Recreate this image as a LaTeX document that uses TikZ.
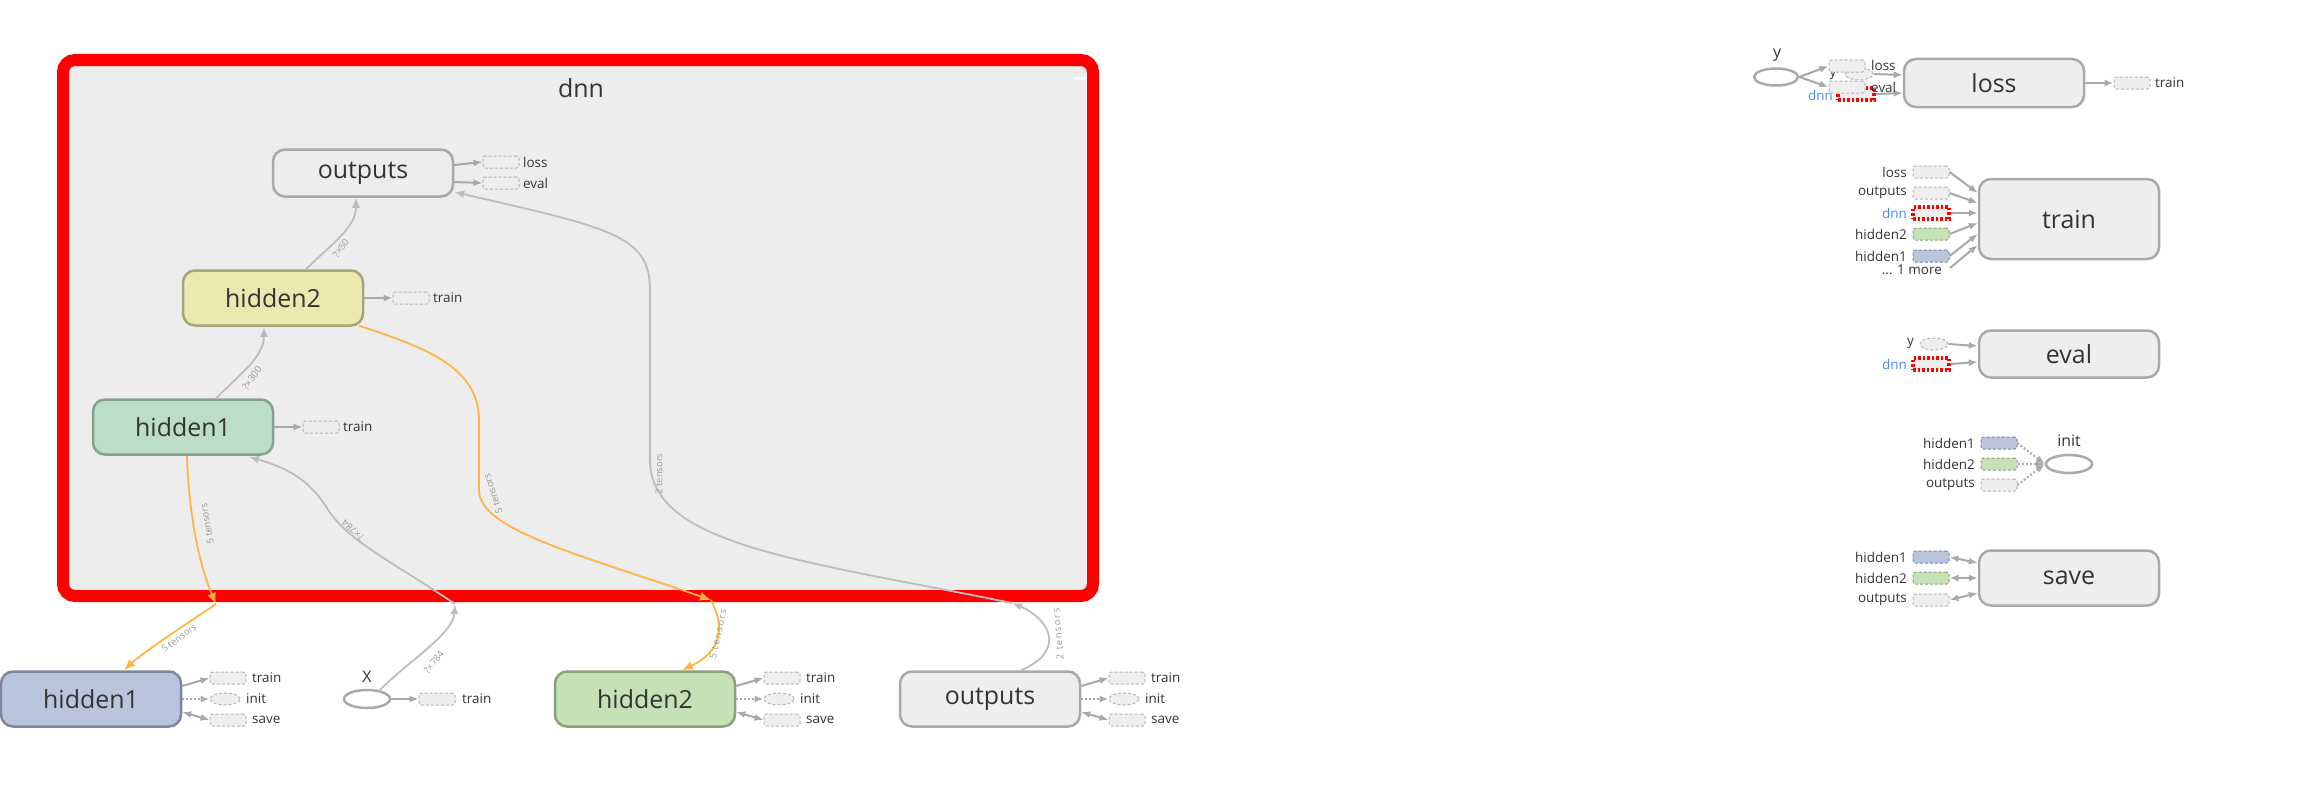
\documentclass[tikz,border=0pt]{standalone}
\usepackage{fontspec}
\setmainfont{Open Sans}
\usetikzlibrary{arrows.meta,calc,positioning,shapes.geometric}
\definecolor{ink}{HTML}{333333}
\definecolor{edgegray}{HTML}{BDBDBD}
\definecolor{tipgray}{HTML}{A8A8A8}
\definecolor{stubgray}{HTML}{B5B5B5}
\definecolor{nodegray}{HTML}{A9A9A9}
\definecolor{groupbg}{HTML}{EDEDED}
\definecolor{boxbg}{HTML}{EEEEEE}
\definecolor{selred}{HTML}{FF0000}
\definecolor{floworange}{HTML}{FFB443}
\definecolor{hidgreen}{HTML}{BCDDC6}
\definecolor{hidgreenln}{HTML}{88A08F}
\definecolor{hidyellow}{HTML}{EAEAB0}
\definecolor{hidyellowln}{HTML}{A6A67A}
\definecolor{varblue}{HTML}{B9C4DD}
\definecolor{varblueln}{HTML}{7D879C}
\definecolor{vargreen}{HTML}{C5E1B6}
\definecolor{vargreenln}{HTML}{8AA07E}
\definecolor{dnnblue}{HTML}{4A8AF4}
\definecolor{lblgray}{HTML}{9A9A9A}
\tikzset{
  opbox/.style={draw=nodegray,fill=boxbg,line width=2.5bp,rounded corners=12bp,minimum width=180bp,minimum height=55bp,inner sep=0pt,text=ink,font=\fontsize{25}{28}\selectfont},
  stubbox/.style={draw=stubgray,fill=boxbg,line width=1bp,dash pattern=on 3bp off 2bp,rounded corners=2.5bp,minimum width=36bp,minimum height=12bp,inner sep=0pt},
  stubell/.style={stubbox,ellipse,sharp corners,minimum width=30bp,minimum height=12bp},
  redstub/.style={draw=selred,fill=boxbg,line width=3.5bp,dash pattern=on 2.5bp off 2bp,minimum width=36bp,minimum height=12bp,inner sep=0pt},
  phold/.style={draw=nodegray,line width=2.5bp,ellipse,minimum width=46bp,minimum height=18bp,inner sep=0pt},
  smalltxt/.style={font=\fontsize{13.5}{15}\selectfont,text=ink,inner sep=0pt},
  titletxt/.style={font=\fontsize{16}{18}\selectfont,text=ink,inner sep=0pt},
  edgetxt/.style={font=\fontsize{9.5}{11}\selectfont,text=lblgray,inner sep=0pt},
  widetxt/.style={font=\fontsize{9.5}{11}\selectfont\addfontfeature{LetterSpace=15},text=lblgray,inner sep=0pt},
  stubarr/.style={-{Latex[length=9bp,width=7bp]},line width=2bp,color=tipgray},
  bothstub/.style={{Latex[length=9bp,width=7bp]}-{Latex[length=9bp,width=7bp]},line width=2bp,color=tipgray},
  dotstub/.style={stubarr,dash pattern=on 2bp off 2bp},
  flowarr/.style={-{Latex[length=10bp,width=8bp]},line width=1.8bp,color=edgegray},
  orarr/.style={-{Latex[length=11bp,width=9bp]},line width=1.8bp,color=floworange}
}
\begin{document}
\begin{tikzpicture}[x=1bp,y=-1bp]
  \useasboundingbox (0,0) rectangle (2306,808);
  % dnn group
  \draw[selred,fill=groupbg,line width=12bp,rounded corners=12bp] (63,60) rectangle (1093,596);
  \node[font=\fontsize{25}{28}\selectfont,text=ink] (dnnttl) at (581,88) {dnn};
  \draw[white,line width=3bp] (1074,78) -- (1087,78);
  \node[opbox,fill=hidgreen,draw=hidgreenln] (h1in) at (183,427) {hidden1};
  \node[opbox,fill=hidyellow,draw=hidyellowln] (h2in) at (273,298) {hidden2};
  \node[opbox,fill=groupbg,minimum height=47bp] (outin) at (363,173) {outputs};
  % stubs inside dnn
  \node[stubbox,fill=groupbg] (outloss) at (501,162) {};
  \node[smalltxt,anchor=west] (outlosst) at (523,162) {loss};
  \node[stubbox,fill=groupbg] (outeval) at (501,183) {};
  \node[smalltxt,anchor=west] (outevalt) at (523,183) {eval};
  \node[stubbox,fill=groupbg] (h2intr) at (411,298) {};
  \node[smalltxt,anchor=west] (h2intrt) at (433,298) {train};
  \node[stubbox,fill=groupbg] (h1intr) at (321,427) {};
  \node[smalltxt,anchor=west] (h1intrt) at (343,427) {train};
  \draw[stubarr] ($(outin.east)+(0,-8)$) -- (outloss.west);
  \draw[stubarr] ($(outin.east)+(0,9)$) -- (outeval.west);
  \draw[stubarr] (h2in.east) -- (h2intr.west);
  \draw[stubarr] (h1in.east) -- (h1intr.west);
  % outside nodes
  \node[opbox,fill=varblue,draw=varblueln] (h1out) at (91,699) {hidden1};
  \node[opbox,fill=vargreen,draw=vargreenln] (h2out) at (645,699) {hidden2};
  \node[opbox] (outout) at (990,699) {outputs};
  \node[phold] (xin) at (367,699) {};
  \node[titletxt] (xttl) at (367,677) {X};
  \node[stubbox] (xtr) at (437,699) {};
  \node[smalltxt,anchor=west] (xtrt) at (462,699) {train};
  \draw[stubarr] (xin.east) -- (xtr.west);
  \foreach \nd/\cx in {h1out/91,h2out/645,outout/990} {
    \node[stubbox] (\nd-tr) at (\cx+137,678) {};
    \node[stubell] (\nd-in) at (\cx+134,699) {};
    \node[stubbox] (\nd-sv) at (\cx+137,720) {};
    \node[smalltxt,anchor=west] (\nd-trt) at (\cx+161,678) {train};
    \node[smalltxt,anchor=west] (\nd-int) at (\cx+155,699) {init};
    \node[smalltxt,anchor=west] (\nd-svt) at (\cx+161,720) {save};
    \draw[stubarr] ($(\nd.east)+(0,-13)$) -- (\nd-tr.west);
    \draw[dotstub] (\nd.east) -- (\nd-in.west);
    \draw[bothstub] ($(\nd.east)+(0,13)$) -- (\nd-sv.west);
  }
  % edges inside dnn
  \draw[flowarr] ($(h1in.north)+(33,0)$) .. controls +(25,-25) and +(0,30) .. ($(h2in.south)+(-9,0)$);
  \node[edgetxt,rotate=55] (e300) at (252,378) {?×300};
  \draw[flowarr] ($(h2in.north)+(33,0)$) .. controls +(25,-25) and +(0,30) .. ($(outin.south)+(-7,0)$);
  \node[edgetxt,rotate=55] (e50) at (341,248) {?×50};
  % hidden1 flow
  \coordinate (h1brd) at (216,604);
  \draw[orarr] ($(h1in.south)+(4,0)$) .. controls +(2,65) and +(-15,-35) .. (h1brd);
  \node[edgetxt,rotate=100] (h1t1) at (207,524) {5 tensors};
  \draw[orarr] (h1brd) .. controls (180,628) and (140,655) .. ($(h1out.north)+(33,0)$);
  \node[edgetxt,rotate=37] (h1t2) at (179,638) {5 tensors};
  % hidden2 flow
  \coordinate (h2brd) at (711,600);
  \draw[orarr] ($(h2in.south east)+(-5,-1)$) .. controls +(60,20) and +(0,-55) .. (479,420) -- (479,490) .. controls +(0,40) and +(-130,-45) .. (h2brd);
  \node[edgetxt,rotate=108] (h2t1) at (493,494) {5 tensors};
  \draw[orarr] (h2brd) .. controls (724,625) and (724,650) .. ($(h2out.north)+(37,0)$);
  \node[widetxt,rotate=78] (h2t2) at (718,634) {5 tensors};
  % outputs flow
  \coordinate (oubrd) at (1012,603);
  \draw[flowarr] ($(outout.north)+(31,0)$) .. controls (1068,650) and (1048,618) .. (oubrd);
  \node[widetxt,rotate=95] (out2) at (1058,634) {2 tensors};
  \draw[flowarr] (oubrd) .. controls (800,560) and (650,545) .. (650,460) -- (650,290) .. controls (650,235) and (610,228) .. ($(outin.east)+(0,19)$);
  \node[edgetxt,rotate=90] (out1) at (659,474) {2 tensors};
  % X flow
  \coordinate (xbrd) at (455,604);
  \draw[flowarr] ($(xin.north)+(12,2)$) .. controls +(30,-30) and +(-2,30) .. (xbrd);
  \node[edgetxt,rotate=52] (x2) at (434,662) {?×784};
  \draw[flowarr] (xbrd) .. controls (390,560) and (345,540) .. (325,505) .. controls (305,475) and (280,466) .. ($(h1in.south)+(66,1)$);
  \node[edgetxt,rotate=138] (x1) at (353,530) {?×784};
  % loss
  \node[opbox,minimum height=48bp] (loss) at (1994,83) {loss};
  \node[phold,minimum width=44bp,minimum height=17bp] (yin) at (1776,77) {};
  \node[titletxt] (yttl) at (1777,55) {y};
  \node[stubell,minimum width=28bp] (lossy) at (1859,74) {};
  \node[smalltxt] (lossyt) at (1833,75) {y};
  \node[redstub] (lossdnn) at (1856,94) {};
  \node[smalltxt,text=dnnblue,anchor=east] (lossdnnt) at (1833,95) {dnn};
  \draw[stubarr] (lossy.east) -- ($(loss.west)+(0,-8)$);
  \draw[stubarr] (lossdnn.east) -- ($(loss.west)+(0,10)$);
  \node[stubbox] (yloss) at (1847,66) {};
  \node[smalltxt,anchor=west] (ylosst) at (1871,65) {loss};
  \node[stubbox] (yeval) at (1847,87) {};
  \node[smalltxt,anchor=west] (yevalt) at (1871,87) {eval};
  \draw[stubarr] (yin.east) -- (yloss.west);
  \draw[stubarr] (yin.east) -- (yeval.west);
  \node[stubbox] (losstr) at (2132,83) {};
  \node[smalltxt,anchor=west] (losstrt) at (2155,83) {train};
  \draw[stubarr] (loss.east) -- (losstr.west);
  % train
  \node[opbox,minimum height=80bp] (train) at (2069,219) {train};
  \foreach \nm/\cy/\dy/\fc/\lc in {loss/172/-26/boxbg/stubgray,outputs/193/-16/boxbg/stubgray,hidden2/234/4/vargreen/vargreenln,hidden1/256/15/varblue/varblueln} {
    \node[stubbox,fill=\fc,draw=\lc] (tr-\nm) at (1931,\cy) {};
    \node[smalltxt,anchor=east] (tr-\nm-t) at (1907,\cy) {\nm};
    \draw[stubarr] (tr-\nm.east) -- ($(train.west)+(0,\dy)$);
  }
  \node[redstub] (tr-dnn) at (1931,213) {};
  \node[smalltxt,text=dnnblue,anchor=east] (tr-dnn-t) at (1907,213) {dnn};
  \draw[stubarr] (tr-dnn.east) -- ($(train.west)+(0,-6)$);
  \node[smalltxt,anchor=east] (trmore) at (1942,270) {... 1 more};
  \draw[stubarr] ($(trmore.east)+(8,-2)$) -- ($(train.west)+(0,26)$);
  % eval
  \node[opbox,minimum height=47bp] (eval) at (2069,354) {eval};
  \node[stubell,minimum width=28bp] (ev-y) at (1934,344) {};
  \node[smalltxt,anchor=east] (ev-yt) at (1914,344) {y};
  \node[redstub] (ev-dnn) at (1931,364) {};
  \node[smalltxt,text=dnnblue,anchor=east] (ev-dnnt) at (1907,364) {dnn};
  \draw[stubarr] (ev-y.east) -- ($(eval.west)+(0,-8)$);
  \draw[stubarr] (ev-dnn.east) -- ($(eval.west)+(0,8)$);
  % init
  \node[phold] (init) at (2069,464) {};
  \node[titletxt] (initttl) at (2069,441) {init};
  \foreach \nm/\cy/\fc/\lc in {hidden1/443/varblue/varblueln,hidden2/464/vargreen/vargreenln,outputs/485/boxbg/stubgray} {
    \node[stubbox,fill=\fc,draw=\lc] (in-\nm) at (1999,\cy) {};
    \node[smalltxt,anchor=east] (in-\nm-t) at (1975,\cy) {\nm};
    \draw[dotstub] (in-\nm.east) -- (init.west);
  }
  % save
  \node[opbox] (save) at (2069,578) {save};
  \foreach \nm/\cy/\dy/\fc/\lc in {hidden1/557/-15/varblue/varblueln,hidden2/578/0/vargreen/vargreenln,outputs/600/15/boxbg/stubgray} {
    \node[stubbox,fill=\fc,draw=\lc] (sv-\nm) at (1931,\cy) {};
    \node[smalltxt,anchor=east] (sv-\nm-t) at (1907,\cy) {\nm};
    \draw[bothstub] (sv-\nm.east) -- ($(save.west)+(0,\dy)$);
  }
\end{tikzpicture}
\end{document}
